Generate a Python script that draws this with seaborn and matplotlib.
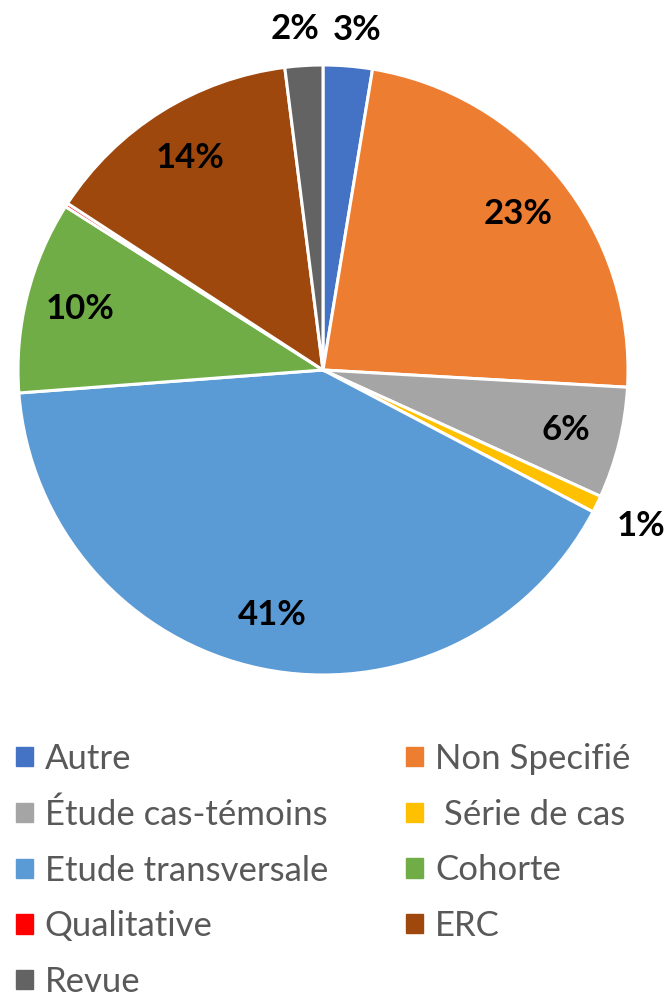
import matplotlib.pyplot as plt
import seaborn as sns
from matplotlib.patches import Rectangle
import numpy as np

categories = ["Autre", "Non Specifié", "Étude cas-témoins", " Série de cas",
              "Etude transversale", "Cohorte", "Qualitative", "ERC", "Revue"]
shares = [2.6, 23.3, 5.9, 0.9, 41.1, 10.2, 0.2, 13.8, 2.0]
colors = ["#4472C4", "#ED7D31", "#A5A5A5", "#FFC000",
          "#5B9BD5", "#70AD47", "#FF0000", "#9E480E", "#636363"]
outside = ["Autre", " Série de cas", "Revue"]
hidden = ["Qualitative"]

sns.set_theme(style="white")
plt.rcParams["font.family"] = ["Lato", "DejaVu Sans"]

fig = plt.figure(figsize=(6.66, 9.98), dpi=100)
ax = fig.add_axes([18 / 666, 1 - 675 / 998, 610 / 666, 610 / 998])

palette = sns.color_palette(colors)
wedges, texts, autotexts = ax.pie(
    shares,
    colors=palette,
    startangle=90,
    counterclock=False,
    autopct=lambda p: f"{p:.0f}%",
    pctdistance=0.82,
    wedgeprops=dict(edgecolor="white", linewidth=2.2),
    textprops=dict(fontsize=25, fontweight="bold", color="black"),
)
ax.set_xlim(-1, 1)
ax.set_ylim(-1, 1)
ax.set_aspect("equal")

for name, w, t in zip(categories, wedges, autotexts):
    if name in hidden:
        t.set_text("")
    elif name in outside:
        mid = np.deg2rad((w.theta1 + w.theta2) / 2)
        r = 1.16 if name == " Série de cas" else 1.12
        x, y = r * np.cos(mid), r * np.sin(mid)
        if abs(x) < 0.15:
            # small slices at the top: push the two labels apart a little
            x += 0.02 * np.sign(x)
        t.set_position((x, y))

# legend row by row, two columns
order = [0, 2, 4, 6, 8, 1, 3, 5, 7]
handles = [Rectangle((0, 0), 1, 1, color=palette[i]) for i in order]
labels = [categories[i] for i in order]
leg = fig.legend(
    handles, labels,
    ncol=2,
    loc="upper left",
    bbox_to_anchor=(16 / 666, 1 - 743 / 998),
    frameon=False,
    fontsize=25,
    handlelength=0.48,
    handleheight=0.48,
    handletextpad=0.35,
    columnspacing=2.25,
    labelspacing=0.68,
    borderpad=0,
    borderaxespad=0,
)
for txt in leg.get_texts():
    txt.set_color("#595959")

plt.savefig("out.png", dpi=100)
